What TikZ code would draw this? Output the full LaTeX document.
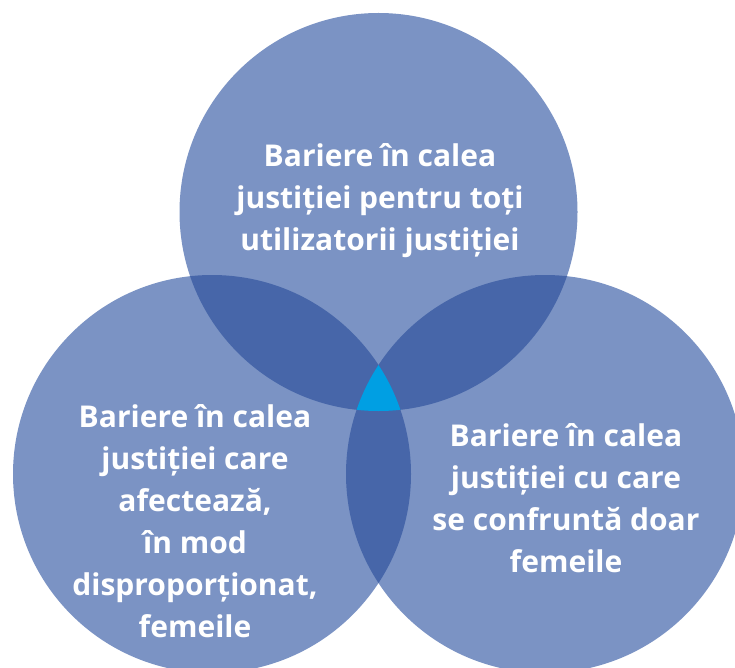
\documentclass[tikz,border=0pt]{standalone}
\usepackage{fontspec}
\setmainfont{Open Sans}
\definecolor{circ}{HTML}{7B93C4}
\definecolor{pair}{HTML}{4766A9}
\definecolor{tri}{HTML}{009FE3}
\begin{document}
\begin{tikzpicture}[x=1pt,y=-1pt,
  label/.style={text=white,font=\fontsize{30}{42}\selectfont\bfseries,align=center,inner sep=0pt}]
\useasboundingbox (0,0) rectangle (735,668);
\clip (0,0) rectangle (735,668);
\def\R{199}
\coordinate (T) at (378.5,212);
\coordinate (L) at (212,474);
\coordinate (Rc) at (545,474);
\fill[circ] (T) circle (\R);
\fill[circ] (L) circle (\R);
\fill[circ] (Rc) circle (\R);
\begin{scope}\clip (T) circle (\R); \fill[pair] (L) circle (\R); \fill[pair] (Rc) circle (\R);\end{scope}
\begin{scope}\clip (L) circle (\R); \fill[pair] (Rc) circle (\R);\end{scope}
\begin{scope}\clip (T) circle (\R); \clip (L) circle (\R); \fill[tri] (Rc) circle (\R);\end{scope}
\node[label] (tt) at (380,201) {Bariere în calea\\justiției pentru toți\\utilizatorii justiției};
\node[label] (lt) at (195,521) {Bariere în calea\\justiției care\\afectează,\\în mod\\disproporționat,\\femeile};
\node[label] (rt) at (566,498) {Bariere în calea\\justiției cu care\\se confruntă doar\\femeile};
\end{tikzpicture}
\end{document}
